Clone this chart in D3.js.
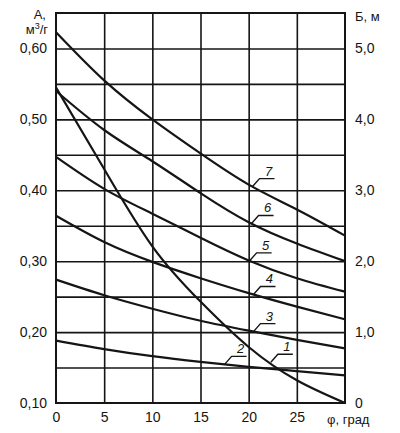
<!DOCTYPE html>
<html>
<head>
<meta charset="utf-8">
<script src="https://cdn.jsdelivr.net/npm/d3@7"></script>
<style>
  body { margin: 0; background: #fff; }
  svg { display: block; font-family: "Liberation Sans", Arial, sans-serif; }
</style>
</head>
<body>
<svg width="400" height="433"></svg>
<script>
// angle, grad
const phi = [0, 5, 10, 15, 20, 25, 30]

// curves 2..7 read on the left axis (A, m3/g)
const curve2 = [0.188, 0.176, 0.166, 0.158, 0.151, 0.145, 0.139]
const curve3 = [0.274, 0.252, 0.233, 0.216, 0.202, 0.189, 0.177]
const curve4 = [0.364, 0.327, 0.299, 0.276, 0.255, 0.236, 0.218]
const curve5 = [0.447, 0.402, 0.367, 0.333, 0.301, 0.276, 0.257]
const curve6 = [0.540, 0.485, 0.441, 0.396, 0.355, 0.325, 0.300]
const curve7 = [0.623, 0.555, 0.500, 0.452, 0.408, 0.373, 0.336]
// curve 1 read on the right axis (Б, m)
const curve1 = [4.45, 3.30, 2.21, 1.43, 0.79, 0.32, 0.0]

// tick labels
const leftTicks = [0.10, 0.20, 0.30, 0.40, 0.50, 0.60]
const rightTicks = [0, 1, 2, 3, 4, 5]
const bottomTicks = [0, 5, 10, 15, 20, 25]
const gridA = [0.15, 0.20, 0.25, 0.30, 0.35, 0.40, 0.45, 0.50, 0.55, 0.60]
const gridPhi = [5, 10, 15, 20, 25]

// curve labels: name and angle where the leader touches the curve
const labelNames = ["1", "2", "3", "4", "5", "6", "7"]
const labelPhi = [22.3, 17.5, 20.5, 20.5, 20.1, 20.3, 20.4]

const svg = d3.select('svg')
const plotL = 56, plotR = 345, plotT = 13, plotB = 403

let x = d3.scaleLinear().domain([0, 30]).range([plotL, plotR])
let yA = d3.scaleLinear().domain([0.10, 0.65]).range([plotB, plotT])
let yB = d3.scaleLinear().domain([0, 5.5]).range([plotB, plotT])

const ink = "#151515"

// grid
svg.append("g")
   .attr("transform", `translate(${plotL},0)`)
   .call(d3.axisLeft(yA).tickValues(gridA).tickSize(-(plotR - plotL)).tickFormat(""))
   .call(g => g.select(".domain").remove())
   .selectAll("line").attr("stroke", ink).attr("stroke-width", 1.6)

svg.append("g")
   .attr("transform", `translate(0,${plotB})`)
   .call(d3.axisBottom(x).tickValues(gridPhi).tickSize(-(plotB - plotT)).tickFormat(""))
   .call(g => g.select(".domain").remove())
   .selectAll("line").attr("stroke", ink).attr("stroke-width", 1.6)

// frame
svg.append("rect")
   .attr("x", plotL)
   .attr("y", plotT)
   .attr("width", plotR - plotL)
   .attr("height", plotB - plotT)
   .attr("fill", "none")
   .attr("stroke", ink)
   .attr("stroke-width", 2)

// tick labels
const comma = d => d3.format(".2f")(d).replace(".", ",")
svg.append("g")
   .attr("transform", `translate(${plotL},0)`)
   .call(d3.axisLeft(yA).tickValues(leftTicks).tickSize(0).tickPadding(9).tickFormat(comma))
   .call(g => g.select(".domain").remove())
   .selectAll("text").attr("font-size", 14).attr("fill", ink).attr("font-family", "Liberation Sans, Arial, sans-serif")

svg.append("g")
   .attr("transform", `translate(${plotR},0)`)
   .call(d3.axisRight(yB).tickValues(rightTicks).tickSize(0).tickPadding(10)
         .tickFormat(d => d === 0 ? "0" : d3.format(".1f")(d).replace(".", ",")))
   .call(g => g.select(".domain").remove())
   .selectAll("text").attr("font-size", 14).attr("fill", ink).attr("font-family", "Liberation Sans, Arial, sans-serif")

svg.append("g")
   .attr("transform", `translate(0,${plotB})`)
   .call(d3.axisBottom(x).tickValues(bottomTicks).tickSize(0).tickPadding(9))
   .call(g => g.select(".domain").remove())
   .selectAll("text").attr("font-size", 14).attr("fill", ink).attr("font-family", "Liberation Sans, Arial, sans-serif")

// axis titles
svg.append("text").attr("x", 46).attr("y", 19).attr("text-anchor", "end")
   .attr("font-size", 13).attr("fill", ink).text("А,")
let unit = svg.append("text").attr("x", 48).attr("y", 34).attr("text-anchor", "end")
   .attr("font-size", 13).attr("fill", ink)
unit.append("tspan").text("м")
unit.append("tspan").attr("dy", -5).attr("font-size", 9).text("3")
unit.append("tspan").attr("dy", 5).text("/г")
svg.append("text").attr("x", 355).attr("y", 21)
   .attr("font-size", 13).attr("fill", ink).text("Б, м")
svg.append("text").attr("x", 327).attr("y", 424)
   .attr("font-size", 13).attr("fill", ink).text("φ, град")

// curves
const seriesA = [curve2, curve3, curve4, curve5, curve6, curve7]
const lineA = d3.line().x((d, i) => x(phi[i])).y(d => yA(d)).curve(d3.curveNatural)
const lineB = d3.line().x((d, i) => x(phi[i])).y(d => yB(d)).curve(d3.curveNatural)

svg.append("g").selectAll("path")
   .data(seriesA)
   .join("path")
   .attr("d", lineA)
   .attr("fill", "none")
   .attr("stroke", ink)
   .attr("stroke-width", 2.2)

svg.append("path")
   .attr("d", lineB(curve1))
   .attr("fill", "none")
   .attr("stroke", ink)
   .attr("stroke-width", 2.2)

// label leaders
const allSeries = [curve1, curve2, curve3, curve4, curve5, curve6, curve7]
function pointOn(k, p) {
  let vals = allSeries[k]
  let i = Math.min(Math.floor(p / 5), phi.length - 2)
  let t = (p - phi[i]) / 5
  let v = vals[i] + (vals[i + 1] - vals[i]) * t
  return [x(p), k === 0 ? yB(v) : yA(v)]
}

labelNames.forEach((name, k) => {
  let [px, py] = pointOn(k, labelPhi[k])
  let ux = px + 7, uy = py - 8
  svg.append("path")
     .attr("d", `M${px},${py}L${ux},${uy}L${ux + 15},${uy}`)
     .attr("fill", "none")
     .attr("stroke", ink)
     .attr("stroke-width", 1.4)
  svg.append("text")
     .attr("x", ux + 9)
     .attr("y", uy - 3)
     .attr("text-anchor", "middle")
     .attr("font-size", 13)
     .attr("font-style", "italic")
     .attr("fill", ink)
     .text(name)
})
</script>
</body>
</html>
